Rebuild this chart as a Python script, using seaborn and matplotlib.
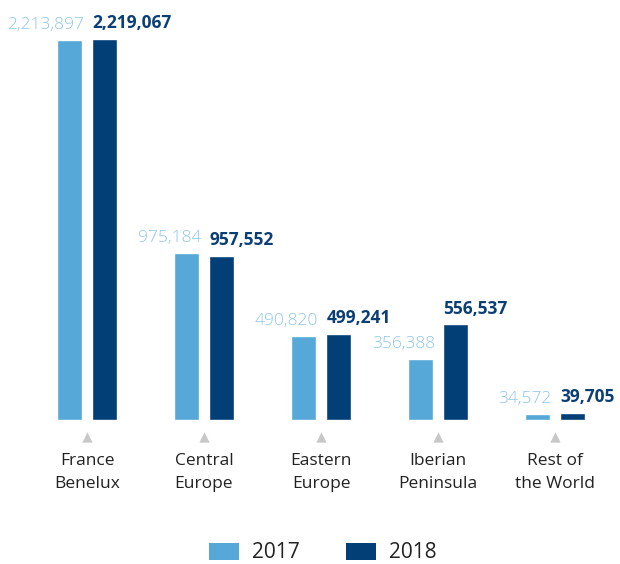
import matplotlib
matplotlib.use("Agg")
import matplotlib.pyplot as plt
import seaborn as sns
import pandas as pd
from matplotlib.patches import Patch

regions = ["France\nBenelux", "Central\nEurope", "Eastern\nEurope", "Iberian\nPeninsula", "Rest of\nthe World"]
years = ["2017", "2018"]
values_2017 = [2213897, 975184, 490820, 356388, 34572]
values_2018 = [2219067, 957552, 499241, 556537, 39705]

bar_colors = ["#55A8D7", "#023F77"]
label_colors = ["#8FC6E8", "#0A3F76"]

sns.set_theme(style="white")
plt.rcParams["font.family"] = ["Open Sans", "DejaVu Sans"]

df = pd.DataFrame({
    "region": regions * 2,
    "year": [years[0]] * len(regions) + [years[1]] * len(regions),
    "value": values_2017 + values_2018,
})

fig = plt.figure(figsize=(6.2, 5.64), dpi=100)
ax = fig.add_axes([0, (564 - 420) / 564, 1, 420 / 564])
sns.barplot(data=df, x="region", y="value", hue="year", palette=bar_colors,
            width=0.61, gap=0.3, ax=ax, legend=False, saturation=1)

ax.set_xlim(-87 / 117, (620 - 87) / 117)
ax.set_ylim(0, 420 / 1.716e-4)
for s in ax.spines.values():
    s.set_visible(False)
ax.set_yticks([])
ax.set_xlabel("")
ax.set_ylabel("")
ax.tick_params(axis="x", length=0, pad=24, labelsize=12.5, labelcolor="#222222")
for t in ax.get_xticklabels():
    t.set_linespacing(1.55)

for i, cont in enumerate(ax.containers):
    for bar in cont:
        h = bar.get_height()
        if i == 0:
            ax.annotate(f"{h:,.0f}", (bar.get_x() + bar.get_width() + 0.02, h),
                        xytext=(0, 5), textcoords="offset points", ha="right", va="bottom",
                        color=label_colors[0], fontsize=12.5, fontweight="light")
        else:
            ax.annotate(f"{h:,.0f}", (bar.get_x(), h),
                        xytext=(0, 5), textcoords="offset points", ha="left", va="bottom",
                        color=label_colors[1], fontsize=12.5, fontweight="bold")

ax.scatter(range(len(regions)), [-17 / 420] * len(regions), marker="^", s=55,
           color="#C8C8C8", transform=ax.get_xaxis_transform(), clip_on=False, linewidths=0)

handles = [Patch(facecolor=c, edgecolor="none") for c in bar_colors]
fig.legend(handles, years, loc="center", bbox_to_anchor=(323 / 620, 1 - 553 / 564),
           ncol=2, frameon=False, fontsize=15, handlelength=1.45, handleheight=0.9,
           columnspacing=2.2, handletextpad=0.62, labelcolor="#222222",
           borderpad=0.2)

fig.savefig("out.png", dpi=100)
